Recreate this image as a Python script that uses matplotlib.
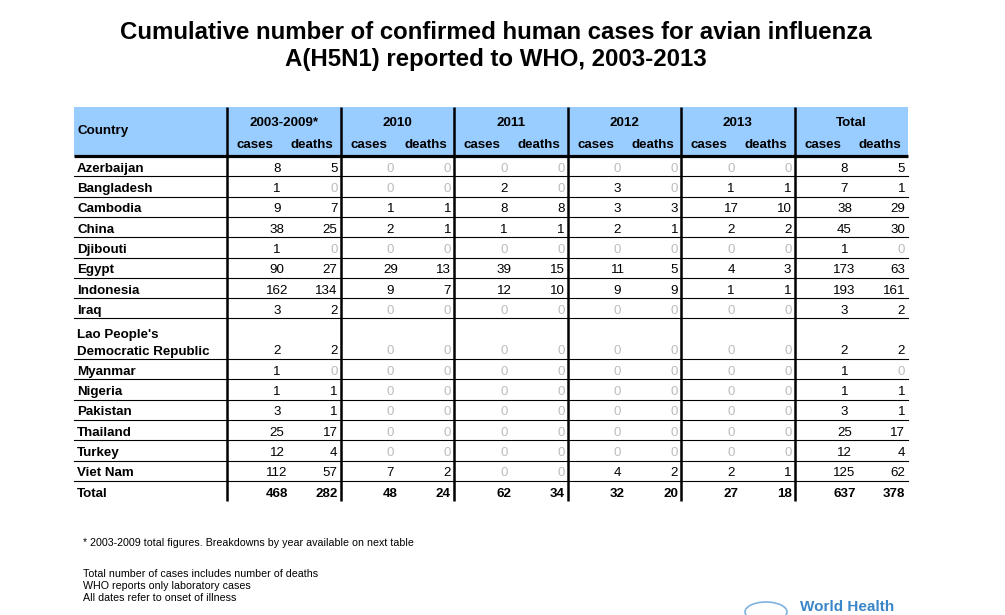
import numpy as np
import matplotlib.pyplot as plt
from matplotlib.patches import Rectangle, Ellipse

plt.rcParams['font.family'] = ['Liberation Sans', 'DejaVu Sans']

title = 'Cumulative number of confirmed human cases for avian influenza\nA(H5N1) reported to WHO, 2003-2013'

countries = ['Azerbaijan', 'Bangladesh', 'Cambodia', 'China', 'Djibouti', 'Egypt',
             'Indonesia', 'Iraq', "Lao People's\nDemocratic Republic", 'Myanmar',
             'Nigeria', 'Pakistan', 'Thailand', 'Turkey', 'Viet Nam']
periods = ['2003-2009*', '2010', '2011', '2012', '2013', 'Total']

cases_0309 = [8, 1, 9, 38, 1, 90, 162, 3, 2, 1, 1, 3, 25, 12, 112]
deaths_0309 = [5, 0, 7, 25, 0, 27, 134, 2, 2, 0, 1, 1, 17, 4, 57]
cases_2010 = [0, 0, 1, 2, 0, 29, 9, 0, 0, 0, 0, 0, 0, 0, 7]
deaths_2010 = [0, 0, 1, 1, 0, 13, 7, 0, 0, 0, 0, 0, 0, 0, 2]
cases_2011 = [0, 2, 8, 1, 0, 39, 12, 0, 0, 0, 0, 0, 0, 0, 0]
deaths_2011 = [0, 0, 8, 1, 0, 15, 10, 0, 0, 0, 0, 0, 0, 0, 0]
cases_2012 = [0, 3, 3, 2, 0, 11, 9, 0, 0, 0, 0, 0, 0, 0, 4]
deaths_2012 = [0, 0, 3, 1, 0, 5, 9, 0, 0, 0, 0, 0, 0, 0, 2]
cases_2013 = [0, 1, 17, 2, 0, 4, 1, 0, 0, 0, 0, 0, 0, 0, 2]
deaths_2013 = [0, 1, 10, 2, 0, 3, 1, 0, 0, 0, 0, 0, 0, 0, 1]
cases_total = [8, 7, 38, 45, 1, 173, 193, 3, 2, 1, 1, 3, 25, 12, 125]
deaths_total = [5, 1, 29, 30, 0, 63, 161, 2, 2, 0, 1, 1, 17, 4, 62]

# bottom "Total" row: (cases, deaths) per period
total_row_cases = [468, 48, 62, 32, 27, 637]
total_row_deaths = [282, 24, 34, 20, 18, 378]

footnote = '* 2003-2009 total figures. Breakdowns by year available on next table'
notes = ['Total number of cases includes number of deaths',
         'WHO reports only laboratory cases',
         'All dates refer to onset of illness']

columns = [(cases_0309, deaths_0309), (cases_2010, deaths_2010),
           (cases_2011, deaths_2011), (cases_2012, deaths_2012),
           (cases_2013, deaths_2013), (cases_total, deaths_total)]

# layout in pixels
W, H = 1005, 615
left, country_right, group_w = 74, 227, 113.5
table_top, header_bottom, unit = 107, 156, 20.3
fs = 9.6
header_blue = '#99ccff'
zero_grey = '#bdbdbd'

fig = plt.figure(figsize=(W / 100, H / 100), dpi=100)
ax = fig.add_axes([0, 0, 1, 1])
ax.set_xlim(0, W)
ax.set_ylim(H, 0)
ax.axis('off')

right = country_right + group_w * len(periods)

# title
ax.text(W / 2 - 7, 46, title, ha='center', va='center', fontsize=17.3,
        fontweight='bold', linespacing=1.2,
        family=['Liberation Sans Narrow', 'Liberation Sans'], fontstretch='condensed')

# header
ax.add_patch(Rectangle((left, table_top), right - left, header_bottom - table_top,
                       facecolor=header_blue, edgecolor='none', zorder=0))
ax.text(left + 3, 131, 'Country', ha='left', va='center', fontsize=fs, fontweight='bold')
for g, name in enumerate(periods):
    gx = country_right + g * group_w
    ax.text(gx + group_w / 2, 123, name, ha='center', va='center', fontsize=fs, fontweight='bold')
    ax.text(gx + 28, 145, 'cases', ha='center', va='center', fontsize=fs, fontweight='bold')
    ax.text(gx + 85, 145, 'deaths', ha='center', va='center', fontsize=fs, fontweight='bold')

# rows
units = [c.count('\n') + 1 for c in countries] + [1]
bounds = header_bottom + unit * np.concatenate([[0], np.cumsum(units)])
table_bottom = bounds[-1]


def put_value(x, y, v, ha, bold=False):
    color = zero_grey if v == 0 else 'black'
    ax.text(x, y, str(v), ha=ha, va='baseline', fontsize=fs, color=color,
            fontweight='bold' if bold else 'normal')


for i, name in enumerate(countries):
    base = bounds[i + 1] - 4.5
    lines = name.split('\n')
    for k, line in enumerate(reversed(lines)):
        ax.text(left + 3, base - 16.5 * k, line, ha='left', va='baseline',
                fontsize=fs, fontweight='bold')
    for g, (cs, ds) in enumerate(columns):
        gx = country_right + g * group_w
        put_value(gx + 50, base, cs[i], 'center')
        put_value(gx + group_w - 3, base, ds[i], 'right')

# total row
base = bounds[-1] - 4.5
ax.text(left + 3, base, 'Total', ha='left', va='baseline', fontsize=fs, fontweight='bold')
for g in range(len(periods)):
    gx = country_right + g * group_w
    put_value(gx + 50, base, total_row_cases[g], 'center', bold=True)
    put_value(gx + group_w - 3, base, total_row_deaths[g], 'right', bold=True)

# grid lines
ax.plot([left, right], [header_bottom, header_bottom], color='black', lw=2.3, solid_capstyle='butt')
for y in bounds[1:-1]:
    ax.plot([left, right], [y, y], color='black', lw=0.8)
for g in range(len(periods)):
    x = country_right + g * group_w
    ax.plot([x, x], [table_top, table_bottom], color='black', lw=1.8, solid_capstyle='butt')

# footnotes
ax.text(83, 543, footnote, ha='left', va='center', fontsize=7.7)
for k, line in enumerate(notes):
    ax.text(83, 574 + 12 * k, line, ha='left', va='center', fontsize=7.7)

# WHO logo at the bottom edge
ax.add_patch(Ellipse((766, 612), 42, 20, facecolor='none', edgecolor='#7fb2e0', lw=1.2))
ax.text(800, 600, 'World Health', ha='left', va='top', fontsize=11,
        fontweight='bold', color='#3a86c8')

fig.savefig('out.png', dpi=100)
